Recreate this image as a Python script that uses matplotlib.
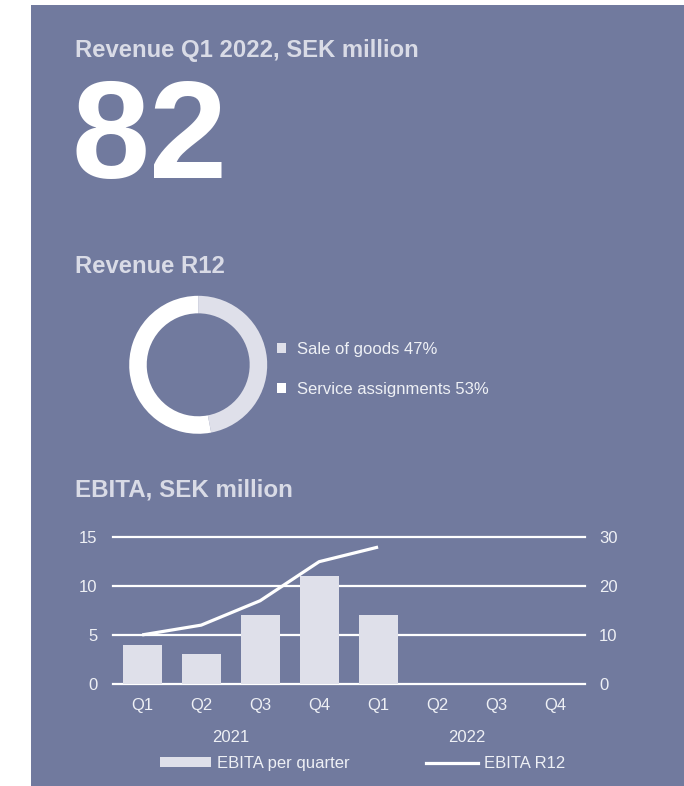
import matplotlib
matplotlib.use("Agg")
import matplotlib.pyplot as plt
import matplotlib.transforms as mtrans
from matplotlib.patches import Rectangle, Patch
from matplotlib.lines import Line2D

plt.rcParams['font.family'] = ['Liberation Sans', 'DejaVu Sans']

# ---- data ----
headline_title = "Revenue Q1 2022, SEK million"
headline_value = "82"

donut_title = "Revenue R12"
donut_labels = ["Sale of goods", "Service assignments"]
donut_shares = [47, 53]

ebita_title = "EBITA, SEK million"
quarters = ["Q1", "Q2", "Q3", "Q4", "Q1", "Q2", "Q3", "Q4"]
years = ["2021", "2022"]
ebita_quarter = [4, 3, 7, 11, 7]
ebita_r12 = [10, 12, 17, 25, 28]
left_ticks = [0, 5, 10, 15]
right_ticks = [0, 10, 20, 30]
legend_labels = ["EBITA per quarter", "EBITA R12"]

# ---- style ----
BG = "#717a9e"
HEAD = "#d9dbe6"
BAR = "#dfe0ea"
TXT = "#eef0f5"
W, H = 684, 786

fig = plt.figure(figsize=(W / 100, H / 100), dpi=100)
fig.patch.set_facecolor("white")
fig.patches.append(Rectangle((31 / W, 0), 1 - 31 / W, (H - 5) / H,
                             transform=fig.transFigure, facecolor=BG,
                             edgecolor="none", zorder=-10))

def fy(py):
    return 1 - py / H

# headline
fig.text(75 / W, fy(57.5), headline_title, color=HEAD, fontsize=17.2,
         fontweight="bold", va="baseline", ha="left")
fig.text(71 / W, fy(178), headline_value, color="white", fontsize=101,
         fontweight="bold", va="baseline", ha="left")

# donut
fig.text(75 / W, fy(273), donut_title, color=HEAD, fontsize=17.2,
         fontweight="bold", va="baseline", ha="left")
cx, cy, r = 198.2, 364.8, 69
dax = fig.add_axes([(cx - r) / W, (H - cy - r) / H, 2 * r / W, 2 * r / H])
wedges, _ = dax.pie(donut_shares, colors=[BAR, "white"], startangle=90,
                    counterclock=False, radius=1,
                    wedgeprops=dict(width=0.254, linewidth=0))
dax.set_xlim(-1, 1)
dax.set_ylim(-1, 1)
dax.set_aspect("equal")
dax.axis("off")
dlabels = [f"{n} {p}%" for n, p in zip(donut_labels, donut_shares)]
leg = dax.legend(wedges, dlabels, loc="center left",
                 bbox_to_anchor=(277 / W, fy(369.5)),
                 bbox_transform=fig.transFigure, frameon=False,
                 fontsize=12, handlelength=0.54, handleheight=0.54,
                 handletextpad=0.68, labelspacing=1.5, borderpad=0,
                 borderaxespad=0)
for t in leg.get_texts():
    t.set_color(TXT)

# EBITA chart
fig.text(75 / W, fy(496), ebita_title, color=HEAD, fontsize=17.4,
         fontweight="bold", va="baseline", ha="left")
x0, x1, yb, yt = 112.7, 584.5, 683.7, 537.3
ax = fig.add_axes([x0 / W, (H - yb) / H, (x1 - x0) / W, (yb - yt) / H])
ax.set_facecolor("none")
ax2 = ax.twinx()
ax2.set_facecolor("none")

xs = list(range(len(quarters)))
for t in left_ticks:
    ax.axhline(t, color="white", linewidth=1.6, clip_on=False, zorder=1)
bars = ax.bar(xs[:len(ebita_quarter)], ebita_quarter, width=0.66,
              color=BAR, zorder=2, linewidth=0)
line, = ax2.plot(xs[:len(ebita_r12)], ebita_r12, color="white",
                 linewidth=2.3, zorder=3, solid_capstyle="butt")
ax.set_zorder(1)
ax2.set_zorder(2)

ax.set_xlim(-0.5, len(quarters) - 0.5)
ax.set_ylim(left_ticks[0], left_ticks[-1])
ax2.set_ylim(right_ticks[0], right_ticks[-1])
ax.set_xticks(xs)
ax.set_xticklabels(quarters)
ax.set_yticks(left_ticks)
ax2.set_yticks(right_ticks)
for a in (ax, ax2):
    for s in a.spines.values():
        s.set_visible(False)
ax.tick_params(axis="x", length=0, pad=10, labelsize=12, labelcolor=TXT)
ax.tick_params(axis="y", length=0, pad=11, labelsize=12, labelcolor=TXT)
ax2.tick_params(axis="y", length=0, pad=10.5, labelsize=12, labelcolor=TXT)

trans = mtrans.blended_transform_factory(ax.transData, ax.transAxes)
for i, yr in enumerate(years):
    xc = (4 * i + 4 * i + 3) / 2
    ax.text(xc, (yb - 742) / (yb - yt), yr, transform=trans, ha="center",
            va="baseline", fontsize=12, color=TXT)

handles = [Patch(facecolor=BAR, edgecolor="none"),
           Line2D([], [], color="white", linewidth=2.3)]
lg = ax.legend(handles, legend_labels, loc="center left", ncol=2,
               bbox_to_anchor=(159.5 / W, fy(763.3)),
               bbox_transform=fig.transFigure, frameon=False, fontsize=12,
               handlelength=3.1, handleheight=0.48, handletextpad=0.36,
               columnspacing=4.6, borderpad=0, borderaxespad=0)
for t in lg.get_texts():
    t.set_color(TXT)

fig.savefig("out.png", dpi=100, facecolor=fig.get_facecolor())
